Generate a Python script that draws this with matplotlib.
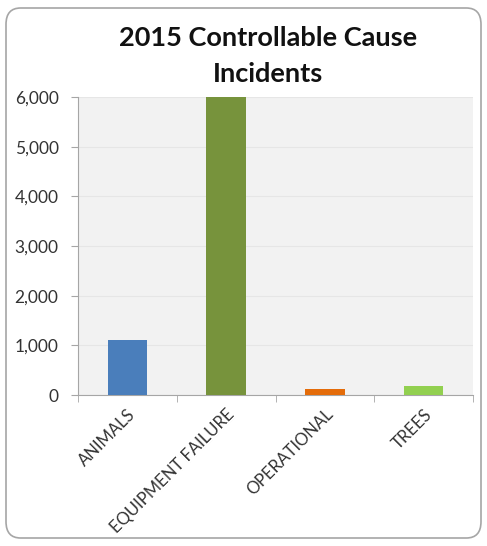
import matplotlib.pyplot as plt
from matplotlib.patches import FancyBboxPatch
from matplotlib.ticker import FuncFormatter

categories = ["ANIMALS", "EQUIPMENT FAILURE", "OPERATIONAL", "TREES"]
incidents = [1100, 6100, 120, 180]
colors = ["#4a7ebb", "#77933c", "#e46c0a", "#92d050"]

plt.rcParams["font.family"] = ["Lato", "DejaVu Sans"]

fig = plt.figure(figsize=(4.87, 5.46), dpi=100)
ax = fig.add_axes([78 / 487, 1 - 395 / 546, 395 / 487, 298 / 546])

# rounded chart border
fig.patches.append(FancyBboxPatch((6 / 487, 8 / 546), 475 / 487, 530 / 546,
                                  boxstyle="round,pad=0,rounding_size=0.03",
                                  transform=fig.transFigure, fill=False,
                                  edgecolor="#a6a6a6", linewidth=1.2))

ax.bar(categories, incidents, width=0.4, color=colors, zorder=3)
ax.set_facecolor("#f2f2f2")
ax.set_ylim(0, 6000)
ax.set_xlim(-0.5, 3.5)
ax.set_yticks(range(0, 6001, 1000))
ax.yaxis.set_major_formatter(FuncFormatter(lambda v, p: f"{int(v):,}"))
ax.grid(axis="y", color="#e6e6e6", linewidth=0.8, zorder=0)

for s in ["top", "right"]:
    ax.spines[s].set_visible(False)
ax.spines["left"].set_color("#a6a6a6")
ax.spines["bottom"].set_color("#a6a6a6")

ax.set_xticks([-0.5, 0.5, 1.5, 2.5, 3.5], minor=True)
ax.tick_params(axis="x", which="major", length=0, pad=8)
ax.tick_params(axis="x", which="minor", length=5, color="#a6a6a6")
ax.tick_params(axis="y", length=5, pad=9, color="#a6a6a6", labelsize=12.5, labelcolor="#333333")
plt.setp(ax.get_xticklabels(), rotation=45, ha="right", rotation_mode="anchor",
         fontsize=12, color="#333333")

fig.text(268 / 487, 1 - 38 / 546, "2015 Controllable Cause", ha="center", va="center",
         fontsize=19.5, fontweight="bold", color="#111111")
fig.text(268 / 487, 1 - 74 / 546, "Incidents", ha="center", va="center",
         fontsize=19.5, fontweight="bold", color="#111111")

fig.savefig("out.png", dpi=100)
